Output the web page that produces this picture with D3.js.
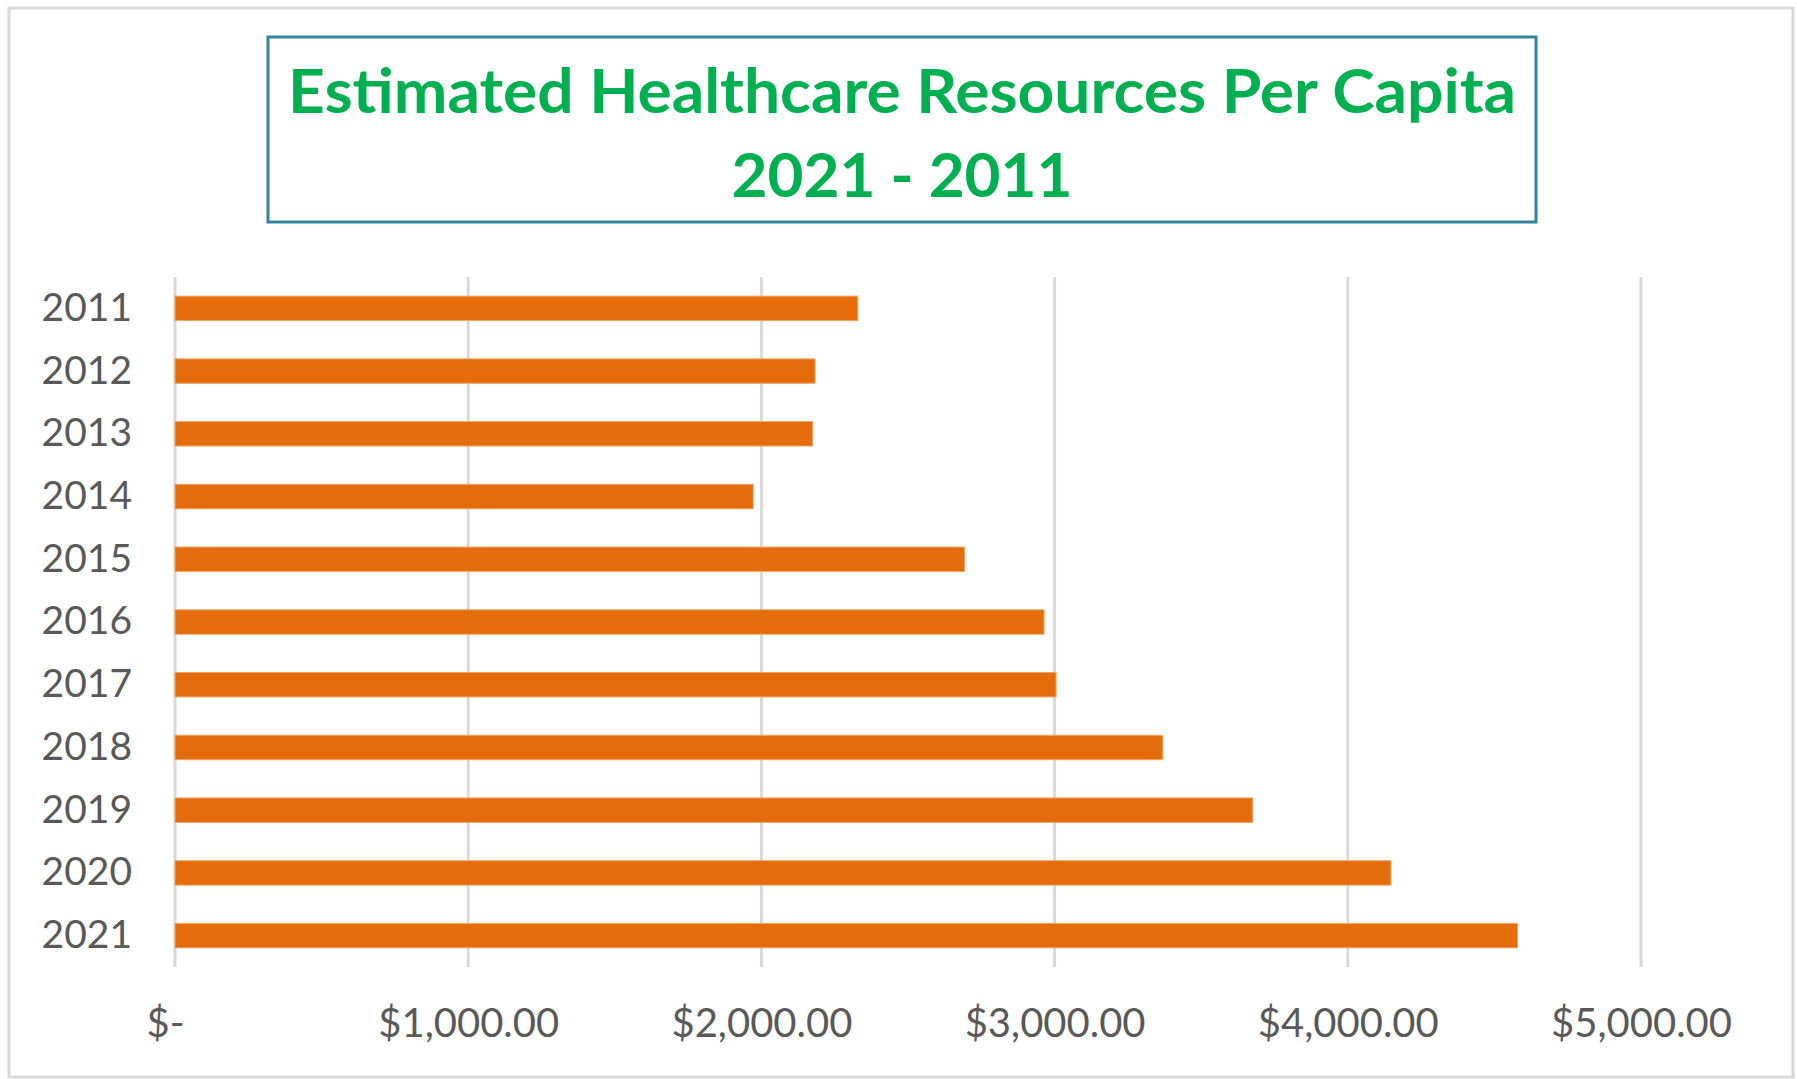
<!DOCTYPE html>
<html>
<head>
<meta charset="utf-8">
<script src="https://cdn.jsdelivr.net/npm/d3@7"></script>
<style>
  html, body { margin: 0; padding: 0; background: #fff; }
  svg { display: block; }
</style>
</head>
<body>
<svg id="chart" width="1797" height="1079"></svg>
<script>
const titleLines = ["Estimated Healthcare Resources Per Capita", "2021 - 2011"];
const years = ["2011","2012","2013","2014","2015","2016","2017","2018","2019","2020","2021"];
const values = [2329, 2183, 2175, 1972, 2693, 2964, 3005, 3369, 3676, 4147, 4579];
const tickValues = [0, 1000, 2000, 3000, 4000, 5000];
const tickLabels = ["$-", "$1,000.00", "$2,000.00", "$3,000.00", "$4,000.00", "$5,000.00"];

const data = years.map((y, i) => ({ year: y, value: values[i] }));

const svg = d3.select("#chart");

// outer chart border
svg.append("rect")
  .attr("x", 9).attr("y", 8).attr("width", 1784).attr("height", 1069)
  .attr("fill", "#fff").attr("stroke", "#D9D9D9").attr("stroke-width", 3);

// title box
svg.append("rect")
  .attr("x", 268).attr("y", 37).attr("width", 1268).attr("height", 185)
  .attr("fill", "#fff").attr("stroke", "#31849B").attr("stroke-width", 3);

const titleG = svg.append("g")
  .attr("font-family", "Lato, 'Open Sans', sans-serif")
  .attr("font-weight", "bold")
  .attr("font-size", 62)
  .attr("fill", "#00B050")
  .attr("text-anchor", "middle");
titleG.selectAll("text").data(titleLines).enter().append("text")
  .attr("x", 902)
  .attr("y", (d, i) => i === 0 ? 113 : 197)
  .each(function(d, i) {
    if (i === 0) {
      d3.select(this).attr("textLength", 1228).attr("lengthAdjust", "spacingAndGlyphs");
    }
  })
  .text(d => d);

const x = d3.scaleLinear().domain([0, 5000]).range([175, 1641]);
const y = d3.scaleBand().domain(years).range([277, 967])
  .paddingInner(0.61).paddingOuter(0.305);

// gridlines
svg.append("g").selectAll("line").data(tickValues).enter().append("line")
  .attr("x1", d => x(d)).attr("x2", d => x(d))
  .attr("y1", 277).attr("y2", 967)
  .attr("stroke", "#D9D9D9").attr("stroke-width", 3);

// bars
svg.append("g").selectAll("rect").data(data).enter().append("rect")
  .attr("x", x(0))
  .attr("y", d => y(d.year))
  .attr("width", d => x(d.value) - x(0))
  .attr("height", y.bandwidth())
  .attr("fill", "#E46C0A")
  .attr("stroke", "#F2A66A").attr("stroke-width", 1);

// x axis (labels only)
const xAxis = d3.axisBottom(x).tickValues(tickValues)
  .tickFormat((d, i) => tickLabels[i]).tickSize(0).tickPadding(0);
const xg = svg.append("g").attr("transform", "translate(0,1008)").call(xAxis);
xg.select(".domain").remove();
xg.selectAll("text")
  .attr("font-family", "Lato, 'Open Sans', sans-serif")
  .attr("font-size", 40)
  .attr("fill", "#595959")
  .attr("dy", "0.72em")
  .attr("dx", (d) => d === 0 ? -10 : 0);

// y axis (labels only)
const yAxis = d3.axisLeft(y).tickSize(0).tickPadding(0);
const yg = svg.append("g").attr("transform", "translate(132,0)").call(yAxis);
yg.select(".domain").remove();
yg.selectAll("text")
  .attr("font-family", "Lato, 'Open Sans', sans-serif")
  .attr("font-size", 39)
  .attr("fill", "#595959");
</script>
</body>
</html>
